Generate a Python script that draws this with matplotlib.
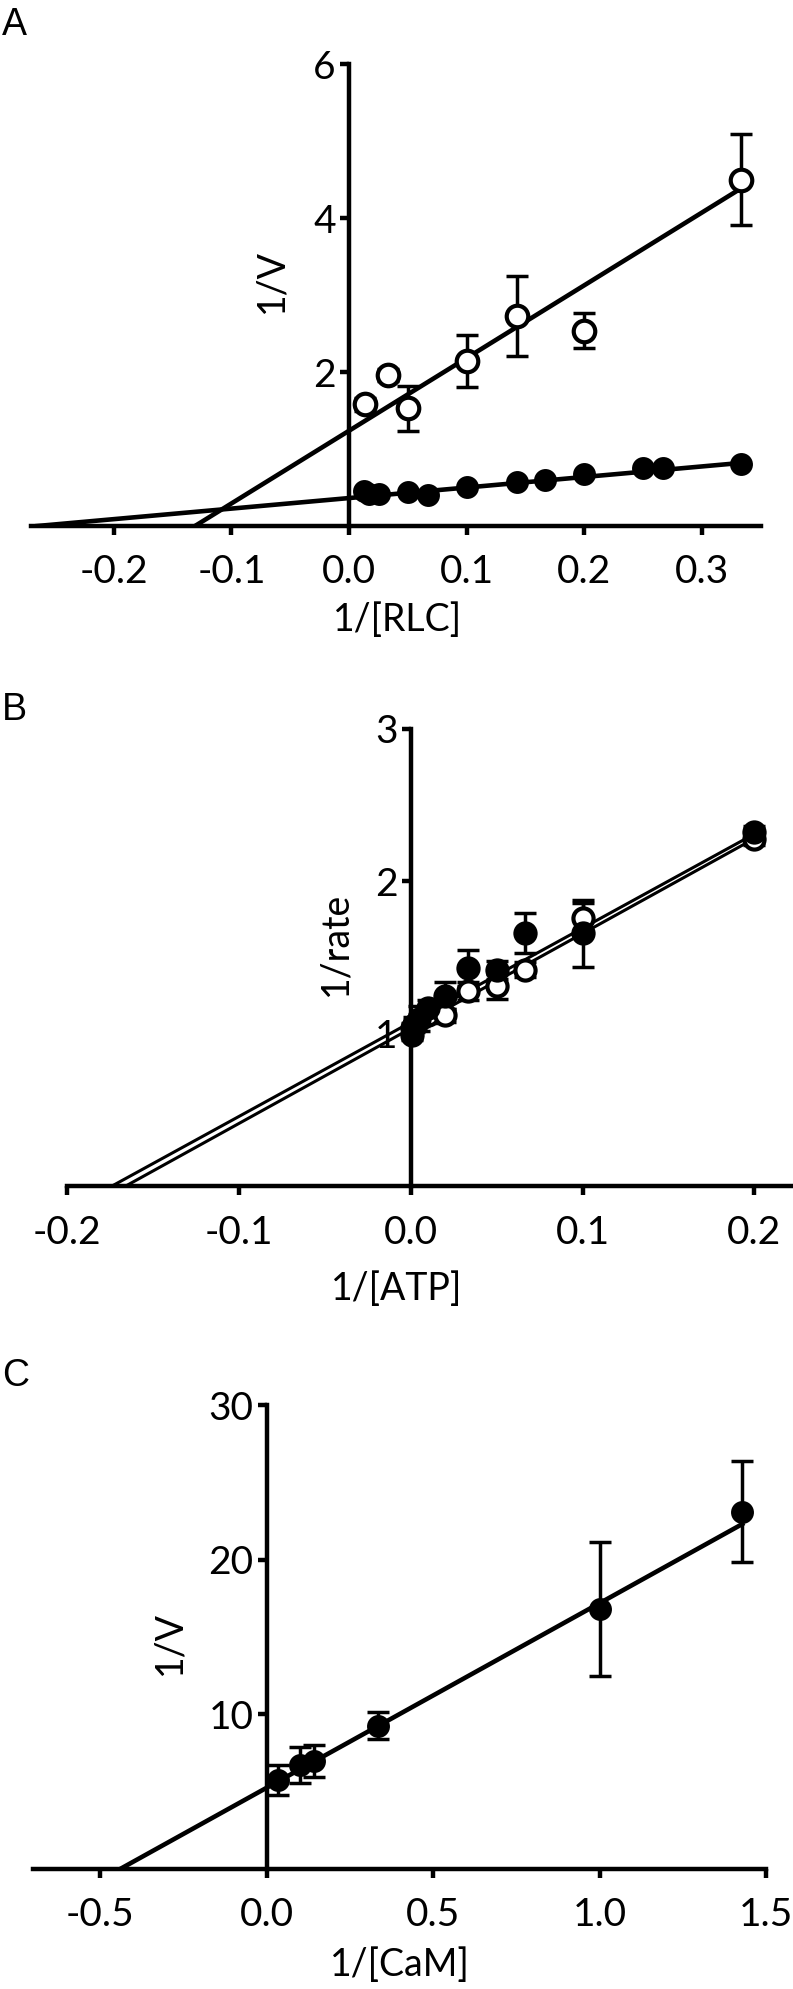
import matplotlib
matplotlib.use('Agg')
import matplotlib.pyplot as plt
import matplotlib.transforms as mtransforms

plt.rcParams['font.family'] = ['Lato', 'DejaVu Sans']
plt.rcParams['axes.unicode_minus'] = False

# ---- data ----
# A: 1/V vs 1/[RLC]
rlc_open_x = [0.0133, 0.0333, 0.05, 0.1, 0.1429, 0.2, 0.3333]
rlc_open_y = [1.58, 1.96, 1.53, 2.14, 2.73, 2.54, 4.50]
rlc_open_err = [0.08, 0.08, 0.29, 0.34, 0.52, 0.23, 0.59]
rlc_fill_x = [0.0125, 0.0167, 0.025, 0.05, 0.0667, 0.1, 0.1429, 0.1667, 0.2, 0.25, 0.2667, 0.3333]
rlc_fill_y = [0.45, 0.42, 0.42, 0.44, 0.40, 0.51, 0.57, 0.60, 0.67, 0.75, 0.76, 0.81]
rlc_open_fit_x = [-0.131, 0.3333]
rlc_open_fit_y = [0.0, 4.39]
rlc_fill_fit_x = [-0.265, 0.3333]
rlc_fill_fit_y = [0.0, 0.82]

# B: 1/rate vs 1/[ATP]
atp_x = [0.001, 0.002, 0.005, 0.01, 0.02, 0.0333, 0.05, 0.0667, 0.1, 0.2]
atp_fill_y = [0.99, 1.06, 1.10, 1.17, 1.25, 1.43, 1.42, 1.66, 1.66, 2.32]
atp_fill_err = [0.03, 0.05, 0.08, 0.05, 0.09, 0.12, 0.06, 0.13, 0.22, 0.04]
atp_open_y = [1.04, 1.06, 1.09, 1.12, 1.12, 1.28, 1.31, 1.42, 1.76, 2.28]
atp_open_err = [0.03, 0.03, 0.04, 0.05, 0.04, 0.06, 0.08, 0.05, 0.10, 0.04]
atp_fill_fit_x = [-0.174, 0.2]
atp_fill_fit_y = [0.0, 2.31]
atp_open_fit_x = [-0.166, 0.2]
atp_open_fit_y = [0.0, 2.28]

# C: 1/V vs 1/[CaM]
cam_x = [0.0333, 0.1, 0.1429, 0.3333, 1.0, 1.4286]
cam_y = [5.75, 6.72, 7.0, 9.25, 16.8, 23.1]
cam_err = [0.95, 1.19, 1.02, 0.87, 4.35, 3.27]
cam_fit_x = [-0.44, 1.4286]
cam_fit_y = [0.0, 22.3]

# tick labels
a_xticks = [-0.2, -0.1, 0.0, 0.1, 0.2, 0.3]
a_xlabels = ['-0.2', '-0.1', '0.0', '0.1', '0.2', '0.3']
a_yticks = [2, 4, 6]
b_xticks = [-0.2, -0.1, 0.0, 0.1, 0.2]
b_xlabels = ['-0.2', '-0.1', '0.0', '0.1', '0.2']
b_yticks = [1, 2, 3]
c_xticks = [-0.5, 0.0, 0.5, 1.0, 1.5]
c_xlabels = ['-0.5', '0.0', '0.5', '1.0', '1.5']
c_yticks = [10, 20, 30]

W, H = 793, 1989
fig = plt.figure(figsize=(W / 100, H / 100), dpi=100)
# pixel coordinates measured from the top-left corner
px = mtransforms.Affine2D().scale(1 / W, -1 / H).translate(0, 1) + fig.transFigure


def add_panel(left, right, top, bottom):
    return fig.add_axes([left / W, 1 - bottom / H, (right - left) / W, (bottom - top) / H])


def style(ax, xlim, ylim, xticks, xlabels, yticks):
    ax.set_xlim(xlim)
    ax.set_ylim(ylim)
    ax.patch.set_visible(False)
    for s in ['top', 'right']:
        ax.spines[s].set_visible(False)
    ax.spines['left'].set_position(('data', 0))
    for s in ['left', 'bottom']:
        ax.spines[s].set_linewidth(3.2)
    ax.set_xticks(xticks, xlabels)
    ax.set_yticks(yticks, [str(t) for t in yticks])
    ax.tick_params(direction='out', length=6.5, width=3.2, labelsize=28)
    ax.tick_params(axis='x', pad=14)
    ax.tick_params(axis='y', pad=3)


def labels(ax, xl, xpos, yl, ypos):
    ax.set_xlabel(xl, fontsize=27, va='center', ha='center')
    ax.xaxis.set_label_coords(*xpos, transform=px)
    ax.set_ylabel(yl, fontsize=27, va='center', ha='center')
    ax.yaxis.set_label_coords(*ypos, transform=px)


def series(ax, x, y, err, filled, ms, mew):
    if err is not None:
        ax.errorbar(x, y, yerr=err, fmt='none', ecolor='black', elinewidth=2.5,
                    capsize=8, capthick=2.5, zorder=3)
    ax.plot(x, y, 'o', ms=ms, mfc='black' if filled else 'white', mec='black',
            mew=mew, ls='none', zorder=4, clip_on=False)


# ---- panel A ----
axA = add_panel(31.4, 761, 64.3, 526)
style(axA, (-0.27, 0.35), (0, 6), a_xticks, a_xlabels, a_yticks)
axA.plot(rlc_open_fit_x, rlc_open_fit_y, color='black', lw=3.3, zorder=2)
axA.plot(rlc_fill_fit_x, rlc_fill_fit_y, color='black', lw=3.3, zorder=2)
series(axA, rlc_open_x, rlc_open_y, rlc_open_err, False, 15.5, 3.0)
series(axA, rlc_fill_x, rlc_fill_y, None, True, 15, 1.5)
labels(axA, '1/[RLC]', (397.5, 620), '1/V', (271, 281))

# ---- panel B ----
axB = add_panel(66.8, 791.4, 728.7, 1186.3)
style(axB, (-0.2, 0.2215), (0, 3), b_xticks, b_xlabels, b_yticks)
axB.plot(atp_fill_fit_x, atp_fill_fit_y, color='black', lw=2.2, zorder=2)
axB.plot(atp_open_fit_x, atp_open_fit_y, color='black', lw=2.2, zorder=2)
series(axB, atp_x, atp_open_y, atp_open_err, False, 14.5, 3.0)
series(axB, atp_x, atp_fill_y, atp_fill_err, True, 16, 1.5)
labels(axB, '1/[ATP]', (397, 1289), '1/rate', (335.5, 944))

# ---- panel C ----
axC = add_panel(32.9, 766, 1405, 1869)
style(axC, (-0.702, 1.5), (0, 30), c_xticks, c_xlabels, c_yticks)
axC.plot(cam_fit_x, cam_fit_y, color='black', lw=3.3, zorder=2)
series(axC, cam_x, cam_y, cam_err, True, 15, 1.5)
labels(axC, '1/[CaM]', (399.7, 1965), '1/V', (169.5, 1643.5))

# panel letters
for letter, top in [('A', 7), ('B', 692), ('C', 1358)]:
    fig.text(2, top, letter, transform=px, ha='left', va='top',
             fontsize=27, family='Liberation Sans')

fig.savefig('out.png', dpi=100)
